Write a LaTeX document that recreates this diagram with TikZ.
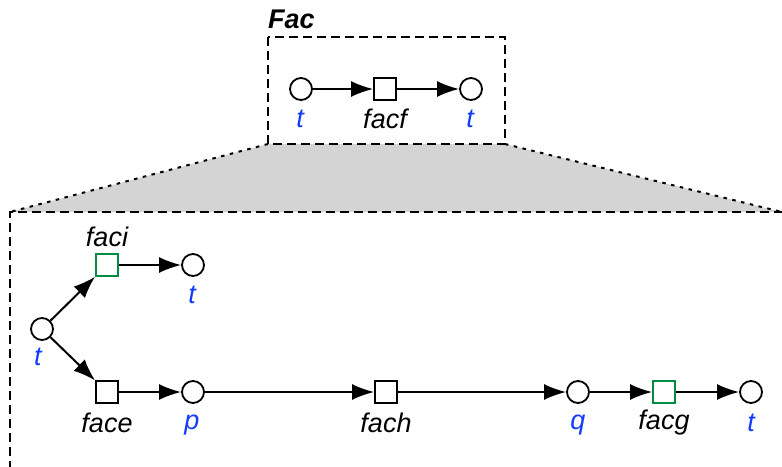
\documentclass[tikz,border=0pt]{standalone}
\usepackage{fontspec}
\setmainfont{Liberation Sans}
\usetikzlibrary{arrows.meta}
\definecolor{lblue}{RGB}{20,60,255}
\definecolor{pgreen}{RGB}{0,140,70}
\definecolor{fillgray}{RGB}{212,212,212}
\begin{document}
\begin{tikzpicture}[x=1pt,y=-1pt,
 place/.style={circle,draw,line width=1.8pt,minimum size=22pt,inner sep=0pt,fill=white},
 trans/.style={rectangle,draw,line width=1.8pt,minimum size=22pt,inner sep=0pt,fill=white},
 gtrans/.style={trans,draw=pgreen},
 lbl/.style={font=\fontsize{27}{31}\selectfont\itshape,inner sep=0pt},
 blbl/.style={lbl,text=lblue},
 arc/.style={-{Latex[length=22pt,width=16pt]},line width=2pt},
 frame/.style={line width=2pt,dash pattern=on 9pt off 5pt},
 dotline/.style={line width=2pt,dash pattern=on 3.5pt off 5.5pt}]
\useasboundingbox (0,0) rectangle (782,466);
% zoom trapezoid
\fill[fillgray] (268,144) -- (505,144) -- (782,212) -- (10,212) -- cycle;
\draw[dotline] (268,144) -- (10,212);
\draw[dotline] (505,144) -- (782,212);
% frames
\draw[frame] (268,37) rectangle (505,144);
\draw[frame] (10,470) -- (10,212) -- (790,212);
\node[lbl,font=\fontsize{27}{31}\selectfont\bfseries\itshape,anchor=west] (fac) at (268,19) {Fac};
% top net
\node[place] (t1) at (301,89) {};
\node[trans] (facf) at (385,89) {};
\node[place] (t2) at (471,89) {};
\node[blbl] (lt1) at (300,119) {t};
\node[lbl] (lfacf) at (385,119) {facf};
\node[blbl] (lt2) at (470,119) {t};
\draw[arc] (t1) -- (facf);
\draw[arc] (facf) -- (t2);
% lower net
\node[place] (t0) at (42,329) {};
\node[gtrans] (faci) at (107,265) {};
\node[place] (t3) at (193,265) {};
\node[trans] (face) at (107,392) {};
\node[place] (p) at (193,392) {};
\node[trans] (fach) at (386,392) {};
\node[place] (q) at (578,392) {};
\node[gtrans] (facg) at (664,392) {};
\node[place] (t4) at (751,392) {};
\node[blbl] (lt0) at (38,357) {t};
\node[lbl] (lfaci) at (107,237) {faci};
\node[blbl] (lt3) at (192,295) {t};
\node[lbl] (lface) at (107,423) {face};
\node[blbl] (lp) at (192,425) {p};
\node[lbl] (lfach) at (386,423) {fach};
\node[blbl] (lq) at (578,425) {q};
\node[lbl] (lfacg) at (664,423) {facg};
\node[blbl] (lt4) at (751,423) {t};
\draw[arc] (t0) -- (faci);
\draw[arc] (t0) -- (face);
\draw[arc] (faci) -- (t3);
\draw[arc] (face) -- (p);
\draw[arc] (p) -- (fach);
\draw[arc] (fach) -- (q);
\draw[arc] (q) -- (facg);
\draw[arc] (facg) -- (t4);
\end{tikzpicture}
\end{document}
